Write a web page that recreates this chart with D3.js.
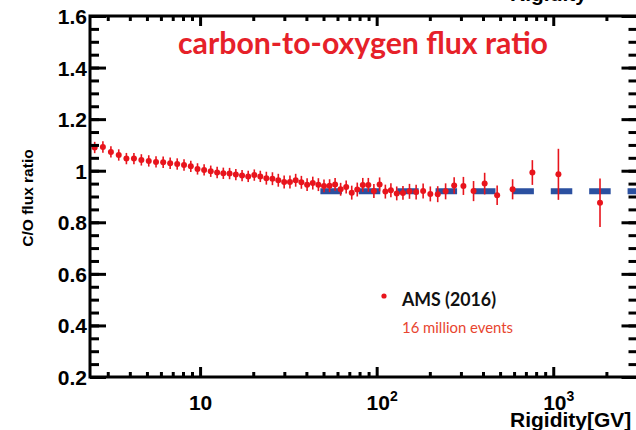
<!DOCTYPE html>
<html>
<head>
<meta charset="utf-8">
<script src="https://cdn.jsdelivr.net/npm/d3@7/dist/d3.min.js"></script>
<style>
  html, body { margin: 0; padding: 0; background: #ffffff; }
  svg { display: block; }
</style>
</head>
<body>
<svg id="chart" width="636" height="430"></svg>
<script>
// Rigidity bin centres (GV) for the C/O flux ratio measurement
const rigidity = [
  2.53, 2.816, 3.126, 3.462, 3.826, 4.22, 4.65, 5.12, 5.63, 6.18,
  6.77, 7.42, 8.11, 8.86, 9.67, 10.54, 11.49, 12.49, 13.54, 14.69,
  15.94, 17.29, 18.73, 20.28, 21.93, 23.73, 25.69, 27.73, 29.93, 32.28,
  34.78, 37.47, 40.37, 43.47, 46.77, 50.32, 54.12, 58.16, 62.51, 67.2,
  72.25, 77.65, 83.44, 89.69, 96.44, 103.9, 112, 120.4, 129.9, 140.9,
  153.4, 167.3, 183.3, 201.3, 221.7, 245.7, 274.7, 309.9, 353.7, 408.8,
  481.2, 588.6, 761.6, 1069.6, 1840
];

// C/O flux ratio in each bin
const ratio = [
  1.090, 1.092, 1.073, 1.061, 1.047, 1.047, 1.042, 1.038, 1.034, 1.033,
  1.029, 1.026, 1.022, 1.017, 1.007, 1.003, 0.998, 0.993, 0.990, 0.989,
  0.985, 0.981, 0.978, 0.983, 0.978, 0.971, 0.969, 0.963, 0.956, 0.956,
  0.963, 0.955, 0.946, 0.952, 0.946, 0.941, 0.942, 0.947, 0.928, 0.937,
  0.915, 0.927, 0.945, 0.945, 0.921, 0.947, 0.919, 0.924, 0.912, 0.914,
  0.920, 0.917, 0.921, 0.910, 0.909, 0.920, 0.943, 0.941, 0.921, 0.950,
  0.905, 0.928, 0.993, 0.986, 0.876
];

// Total uncertainty on each ratio value
const ratioErr = [
  0.022, 0.022, 0.022, 0.022, 0.022, 0.022, 0.022, 0.022, 0.022, 0.022,
  0.022, 0.022, 0.022, 0.022, 0.022, 0.022, 0.022, 0.022, 0.022, 0.022,
  0.022, 0.022, 0.022, 0.022, 0.022, 0.025, 0.025, 0.025, 0.025, 0.025,
  0.025, 0.025, 0.025, 0.025, 0.025, 0.025, 0.025, 0.025, 0.025, 0.025,
  0.027, 0.027, 0.027, 0.027, 0.027, 0.027, 0.027, 0.027, 0.027, 0.027,
  0.029, 0.029, 0.029, 0.029, 0.031, 0.031, 0.032, 0.035, 0.039, 0.042,
  0.038, 0.039, 0.048, 0.099, 0.094
];

// Constant high-rigidity fit
const fitRigidity = [48, 3000];
const fitRatio = [0.92, 0.92];

// Axis ticks
const yMajorTicks = [0.2, 0.4, 0.6, 0.8, 1.0, 1.2, 1.4, 1.6];
const yMinorTicks = d3.range(0.25, 1.6, 0.05).map(v => +v.toFixed(2));
const xMajorTicks = [10, 100, 1000];
const xMajorLabels = [["10", ""], ["10", "2"], ["10", "3"]];
const xMinorTicks = [3, 4, 5, 6, 7, 8, 9, 20, 30, 40, 50, 60, 70, 80, 90,
                     200, 300, 400, 500, 600, 700, 800, 900, 2000];

const plotLeft = 90, plotRight = 637.5, plotTop = 16, plotBottom = 377;

const svg = d3.select("#chart");

const x = d3.scaleLog().domain([2.38, 3000]).range([plotLeft, plotRight]);
const y = d3.scaleLinear().domain([0.2, 1.6]).range([plotBottom, plotTop]);

const red = "#e8141c";
const ink = "#000000";
const labelFont = "'Liberation Sans', Arial, Helvetica, sans-serif";
const humanist = "Lato, 'Open Sans', sans-serif";

// ---- fit line (dashed) ----
const fitPts = fitRigidity.map((r, i) => [r, fitRatio[i]]);
svg.append("path")
  .attr("d", d3.line().x(d => x(d[0])).y(d => y(d[1]))(fitPts))
  .attr("fill", "none")
  .attr("stroke", "#2b50a0")
  .attr("stroke-width", 6)
  .attr("stroke-dasharray", "21.5,16.9");

// ---- data points with error bars ----
const pts = rigidity.map((r, i) => ({ r, v: ratio[i], e: ratioErr[i] }));
const gPts = svg.append("g");
gPts.selectAll("line.err").data(pts).join("line")
  .attr("class", "err")
  .attr("x1", d => x(d.r)).attr("x2", d => x(d.r))
  .attr("y1", d => y(d.v - d.e)).attr("y2", d => y(d.v + d.e))
  .attr("stroke", red).attr("stroke-width", 1.6);
gPts.selectAll("circle").data(pts).join("circle")
  .attr("cx", d => x(d.r)).attr("cy", d => y(d.v))
  .attr("r", 3).attr("fill", red);

// ---- axes ----
function styleAxis(g) {
  g.select(".domain").remove();
  g.selectAll(".tick line").attr("stroke", ink).attr("stroke-width", 3);
}

// left: major ticks with labels, pointing inward
const gLeft = svg.append("g").attr("transform", `translate(${plotLeft},0)`)
  .call(d3.axisLeft(y).tickValues(yMajorTicks).tickSize(-16).tickPadding(3)
    .tickFormat(d => d === 1 ? "1" : d3.format(".1f")(d)));
styleAxis(gLeft);
gLeft.selectAll("text")
  .attr("font-family", labelFont).attr("font-weight", "bold")
  .attr("font-size", 21).attr("fill", ink).attr("dy", "0.36em");
svg.append("g").attr("transform", `translate(${plotLeft},0)`)
  .call(d3.axisLeft(y).tickValues(yMinorTicks).tickSize(-9).tickFormat(""))
  .call(styleAxis);

// right: ticks only, pointing inward
svg.append("g").attr("transform", `translate(${plotRight},0)`)
  .call(d3.axisLeft(y).tickValues(yMajorTicks).tickSize(16).tickFormat(""))
  .call(styleAxis);
svg.append("g").attr("transform", `translate(${plotRight},0)`)
  .call(d3.axisLeft(y).tickValues(yMinorTicks).tickSize(9).tickFormat(""))
  .call(styleAxis);

// bottom: major ticks with power-of-ten labels
const gBottom = svg.append("g").attr("transform", `translate(0,${plotBottom})`)
  .call(d3.axisBottom(x).tickValues(xMajorTicks).tickSize(-10).tickFormat(""));
styleAxis(gBottom);
gBottom.selectAll(".tick").each(function (d, i) {
  const t = d3.select(this).append("text")
    .attr("y", 33).attr("text-anchor", "middle")
    .attr("font-family", labelFont).attr("font-weight", "bold")
    .attr("font-size", 21).attr("fill", ink);
  const [base, exp] = xMajorLabels[i];
  t.append("tspan").text(base);
  if (exp) {
    t.attr("dx", 5);
    t.append("tspan").text(exp).attr("font-size", 14).attr("dy", -9);
  }
});
svg.append("g").attr("transform", `translate(0,${plotBottom})`)
  .call(d3.axisBottom(x).tickValues(xMinorTicks).tickSize(-5).tickFormat(""))
  .call(styleAxis);

// top: ticks only, pointing inward
svg.append("g").attr("transform", `translate(0,${plotTop})`)
  .call(d3.axisBottom(x).tickValues(xMajorTicks).tickSize(10).tickFormat(""))
  .call(styleAxis);
svg.append("g").attr("transform", `translate(0,${plotTop})`)
  .call(d3.axisBottom(x).tickValues(xMinorTicks).tickSize(5).tickFormat(""))
  .call(styleAxis);

// frame
svg.append("rect")
  .attr("x", plotLeft).attr("y", plotTop)
  .attr("width", plotRight - plotLeft).attr("height", plotBottom - plotTop)
  .attr("fill", "none").attr("stroke", ink).attr("stroke-width", 3);

// ---- axis titles ----
svg.append("text")
  .attr("x", 510).attr("y", 427)
  .attr("font-family", labelFont).attr("font-weight", "bold")
  .attr("font-size", 21).attr("fill", ink)
  .text("Rigidity[GV]");
// x-axis title of the panel above, running off the top edge
svg.append("text")
  .attr("x", 510).attr("y", 0.5)
  .attr("font-family", labelFont).attr("font-weight", "bold")
  .attr("font-size", 21).attr("fill", ink)
  .text("Rigidity");
svg.append("text")
  .attr("transform", "translate(33,198) rotate(-90)")
  .attr("text-anchor", "middle")
  .attr("font-family", labelFont).attr("font-weight", "bold")
  .attr("font-size", 15.5).attr("fill", ink)
  .text("C/O flux ratio");

// ---- title ----
svg.append("text")
  .attr("x", 178).attr("y", 54)
  .attr("font-family", humanist).attr("font-weight", "bold")
  .attr("font-size", 31).attr("fill", "#e62129")
  .attr("textLength", 370).attr("lengthAdjust", "spacingAndGlyphs")
  .text("carbon-to-oxygen flux ratio");

// ---- legend ----
svg.append("circle").attr("cx", 384).attr("cy", 296).attr("r", 2.6).attr("fill", red);
svg.append("text")
  .attr("x", 402).attr("y", 306)
  .attr("font-family", humanist).attr("font-weight", "bold")
  .attr("font-size", 18).attr("fill", "#111111")
  .attr("textLength", 94).attr("lengthAdjust", "spacingAndGlyphs")
  .text("AMS (2016)");
svg.append("text")
  .attr("x", 402).attr("y", 333)
  .attr("font-family", humanist)
  .attr("font-size", 15).attr("fill", "#e8452f")
  .attr("textLength", 111).attr("lengthAdjust", "spacingAndGlyphs")
  .text("16 million events");
</script>
</body>
</html>
